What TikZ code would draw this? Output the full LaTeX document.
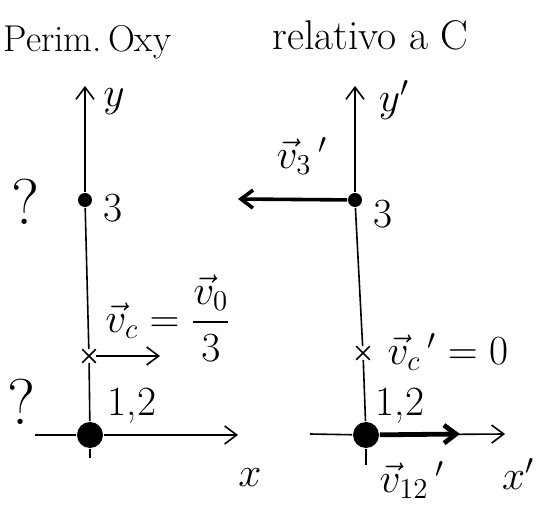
\documentclass[tikz,border=0pt]{standalone}
\usepackage{amsmath}
\usepackage{tikz}
\usetikzlibrary{positioning, arrows.meta, shapes.misc}

\begin{document}
\begin{tikzpicture}[x=0.5pt,y=-0.5pt,->,>={Straight Barb[length=6pt,width=9pt]},thick,
    pt/.style={circle,fill,inner sep=0pt,minimum size=7pt},
    big/.style={circle,fill,inner sep=0pt,minimum size=13pt},
    cross/.style={cross out,draw,-,inner sep=0pt,minimum size=6pt},
    lbl/.style={inner sep=1pt}]
      \useasboundingbox (0,0) rectangle (542,518);

      % titles
      \node[lbl,anchor=base west,scale=0.9] (tl) at (1,52) {\huge Perim.\,Oxy};
      \node[lbl,anchor=base west] (tr) at (270,50) {\huge relativo a C};

      % left: lab frame
      \coordinate (ay) at (85,86);
      \coordinate (ab) at (90,458);
      \coordinate (axl) at (35,435);
      \coordinate (axr) at (238,435);
      \node[pt] (a3) at (85,200) {};
      \node[cross] (ac) at (89,356) {};
      \node[big] (a12) at (90,435) {};
      \coordinate (acend) at (160,356);

      \draw[-] (ab) -- (a12) -- (ac) -- (a3);
      \draw (a3) -- (ay);
      \draw (axl) -- (a12) -- (axr);
      \draw (ac) -- (acend);

      \node[lbl] (ylab) at (114,102) {\huge $y$};
      \node[lbl] (xlab) at (250,478) {\huge $x$};
      \node[lbl,right=4pt of a3,yshift=-4pt] (a3lab) {\huge 3};
      \node[lbl] (a12lab) at (132,406) {\huge 1,2};
      \node[lbl] (aclab) at (168,318) {\huge $\vec{v}_c=\dfrac{\vec{v}_0}{3}$};
      \node[lbl,scale=1.3] (q1) at (26,202) {\Huge ?};
      \node[lbl,scale=1.3] (q2) at (22,402) {\Huge ?};

      % right: frame of C
      \coordinate (by) at (355,86);
      \coordinate (bb) at (366,465);
      \coordinate (bxl) at (310,434);
      \coordinate (bxr) at (505,434);
      \node[pt] (b3) at (355,200) {};
      \node[cross] (bc) at (363,353) {};
      \node[big] (b12) at (366,435) {};
      \coordinate (b3end) at (238,199);
      \coordinate (b12end) at (460,434);

      \draw[-] (bb) -- (b12) -- (bc) -- (b3);
      \draw (b3) -- (by);
      \draw (bxl) -- (b12) -- (bxr);
      \draw[line width=1.8pt] (b3) -- (b3end);
      \draw[line width=2.4pt] (b12) -- (b12end);

      \node[lbl] (y2lab) at (394,100) {\huge $y'$};
      \node[lbl] (x2lab) at (518,474) {\huge $x'$};
      \node[lbl,right=4pt of b3,yshift=-7pt] (b3lab) {\huge 3};
      \node[lbl] (b12lab) at (400,406) {\huge 1,2};
      \node[lbl] (bv3lab) at (302,156) {\huge $\vec{v}_3\,'$};
      \node[lbl] (bclab) at (448,352) {\huge $\vec{v}_c\,'=0$};
      \node[lbl] (bv12lab) at (412,480) {\huge $\vec{v}_{12}\,'$};
    \end{tikzpicture}
\end{document}
